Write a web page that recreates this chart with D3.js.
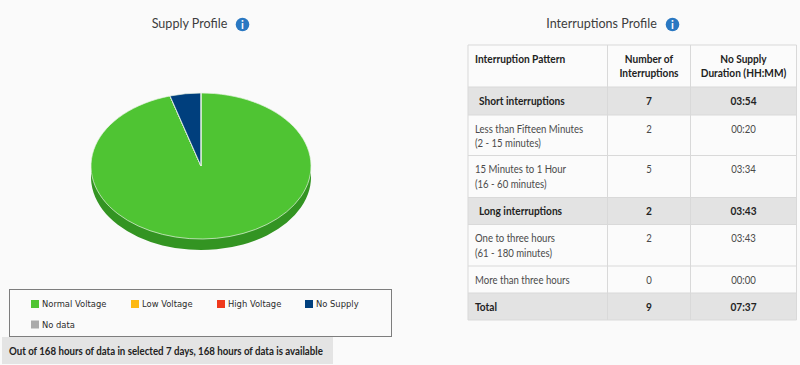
<!DOCTYPE html>
<html>
<head>
<meta charset="utf-8">
<script src="https://cdn.jsdelivr.net/npm/d3@7"></script>
<style>
  html, body { margin: 0; padding: 0; background: #fafafa; overflow: hidden; }
  text { font-family: Lato, "Open Sans", sans-serif; }
</style>
</head>
<body>
<svg id="chart" width="800" height="365"></svg>
<script>
// hours in each supply state, 168 in total
const supplyLabels = ["Normal Voltage", "Low Voltage", "High Voltage", "No Supply", "No data"];
const supplyHours = [160.38, 0, 0, 7.62, 0];
const supplyColors = ["#4fc433", "#fdb913", "#f0391c", "#003f7d", "#aaaaaa"];

const headerRow = [["Interruption Pattern"], ["Number of", "Interruptions"], ["No Supply", "Duration (HH:MM)"]];
const patternLabels = [
  ["Short interruptions"],
  ["Less than Fifteen Minutes", "(2 - 15 minutes)"],
  ["15 Minutes to 1 Hour", "(16 - 60 minutes)"],
  ["Long interruptions"],
  ["One to three hours", "(61 - 180 minutes)"],
  ["More than three hours"],
  ["Total"]
];
const interruptionCounts = ["7", "2", "5", "2", "2", "0", "9"];
const noSupplyDurations = ["03:54", "00:20", "03:34", "03:43", "03:43", "00:00", "07:37"];
const rowKinds = ["group", "item", "item", "group", "item", "item", "total"];

const svg = d3.select("#chart");

//Lato runs wider than the font in the picture, so squeeze the glyphs a little
function condense(sel, factor) {
  sel.attr("lengthAdjust", "spacingAndGlyphs")
    .attr("textLength", sel.node().getComputedTextLength() * factor);
}

//titles with the small blue info icon next to them
function drawTitle(label, cx, iconX) {
  svg.append("text")
    .attr("x", cx)
    .attr("y", 28)
    .attr("text-anchor", "middle")
    .attr("font-size", "13.5px")
    .attr("fill", "#3d3d3d")
    .text(label)
    .call(condense, 0.93);

  svg.append("circle")
    .attr("cx", iconX)
    .attr("cy", 24.5)
    .attr("r", 6.8)
    .attr("fill", "#2a78c2");

  svg.append("text")
    .attr("x", iconX)
    .attr("y", 28.5)
    .attr("text-anchor", "middle")
    .attr("font-size", "11px")
    .attr("font-weight", "bold")
    .attr("fill", "#ffffff")
    .text("i");
}

drawTitle("Supply Profile", 189.5, 242.5);
drawTitle("Interruptions Profile", 601.5, 672.5);

//pie, tilted by squashing the circle
const radius = 110;
const tilt = 73 / 110;
const depth = 11;
const pieData = d3.pie().sort(null).value(d => d.value)(
  supplyLabels.map((label, i) => ({ label: label, value: supplyHours[i], color: supplyColors[i] }))
);
const arc = d3.arc().innerRadius(0).outerRadius(radius);

const sideG = svg.append("g")
  .attr("transform", `translate(201,${166 + depth}) scale(1,${tilt})`);

sideG.selectAll("path")
  .data(pieData)
  .join("path")
  .attr("d", arc)
  .attr("fill", "#339422");

const pieG = svg.append("g")
  .attr("transform", `translate(201,166) scale(1,${tilt})`);

pieG.selectAll("path")
  .data(pieData)
  .join("path")
  .attr("d", arc)
  .attr("fill", d => d.data.color)
  .attr("stroke", "#e8f3e4")
  .attr("stroke-width", 0.7)
  .attr("vector-effect", "non-scaling-stroke");

//legend box
svg.append("rect")
  .attr("x", 9.5)
  .attr("y", 289.5)
  .attr("width", 382)
  .attr("height", 47)
  .attr("fill", "none")
  .attr("stroke", "#7d7d7d");

const legendX = d3.scaleOrdinal().domain(supplyLabels).range([31, 131, 217, 305, 31]);
const legendY = d3.scaleOrdinal().domain(supplyLabels).range([304, 304, 304, 304, 324.5]);

const legend = svg.selectAll(".legend-item")
  .data(supplyLabels)
  .join("g")
  .attr("class", "legend-item")
  .attr("transform", d => `translate(${legendX(d)},${legendY(d)})`);

legend.append("rect")
  .attr("y", -4)
  .attr("width", 8)
  .attr("height", 8)
  .attr("fill", (d, i) => supplyColors[i]);

legend.append("text")
  .attr("x", 11)
  .attr("y", 3.3)
  .attr("font-size", "8.4px")
  .style("font-family", "'DejaVu Sans', sans-serif")
  .attr("fill", "#2b2b2b")
  .text(d => d);

//availability note
svg.append("rect")
  .attr("x", 2)
  .attr("y", 337)
  .attr("width", 331)
  .attr("height", 27)
  .attr("fill", "#e4e4e4");

svg.append("text")
  .attr("x", 9)
  .attr("y", 355)
  .attr("font-size", "11px")
  .attr("font-weight", "bold")
  .attr("fill", "#222222")
  .text("Out of 168 hours of data in selected 7 days, 168 hours of data is available")
  .call(condense, 0.88);

//interruptions table
const colEdges = [468, 607.5, 690.5, 796.5];
const rowEdges = [45, 87, 115, 155.5, 197.5, 224.5, 266, 293, 320];
const lineStep = 14.5;

const tableRows = [{ kind: "header", cells: headerRow }].concat(
  patternLabels.map((label, i) => ({
    kind: rowKinds[i],
    cells: [label, [interruptionCounts[i]], [noSupplyDurations[i]]]
  }))
);

tableRows.forEach((row, r) => {
  const rowTop = rowEdges[r];
  const rowH = rowEdges[r + 1] - rowTop;
  const shaded = row.kind === "group" || row.kind === "total";
  const isBold = row.kind !== "item";

  svg.append("rect")
    .attr("x", colEdges[0])
    .attr("y", rowTop)
    .attr("width", colEdges[3] - colEdges[0])
    .attr("height", rowH)
    .attr("fill", shaded ? "#e3e3e3" : "#fbfbfb");

  row.cells.forEach((lines, c) => {
    const textX = c === 0
      ? colEdges[0] + (row.kind === "group" ? 11 : 7)
      : (colEdges[c] + colEdges[c + 1]) / 2;
    const firstY = shaded ? rowTop + rowH / 2 + 4 : rowTop + 17.5;

    lines.forEach((line, k) => {
      svg.append("text")
        .attr("x", textX)
        .attr("y", firstY + k * lineStep)
        .attr("text-anchor", c === 0 ? "start" : "middle")
        .attr("font-size", "11px")
        .attr("font-weight", isBold ? "bold" : "normal")
        .attr("fill", isBold ? "#222222" : "#4a4a4a")
        .text(line)
        .call(condense, isBold ? 0.92 : 0.87);
    });
  });
});

//cell borders
svg.selectAll(".row-line")
  .data(rowEdges)
  .join("line")
  .attr("class", "row-line")
  .attr("x1", colEdges[0])
  .attr("x2", colEdges[3])
  .attr("y1", d => d)
  .attr("y2", d => d)
  .attr("stroke", "#d9d9d9");

svg.selectAll(".col-line")
  .data(colEdges)
  .join("line")
  .attr("class", "col-line")
  .attr("x1", d => d)
  .attr("x2", d => d)
  .attr("y1", rowEdges[0])
  .attr("y2", rowEdges[rowEdges.length - 1])
  .attr("stroke", "#d9d9d9");
</script>
</body>
</html>
